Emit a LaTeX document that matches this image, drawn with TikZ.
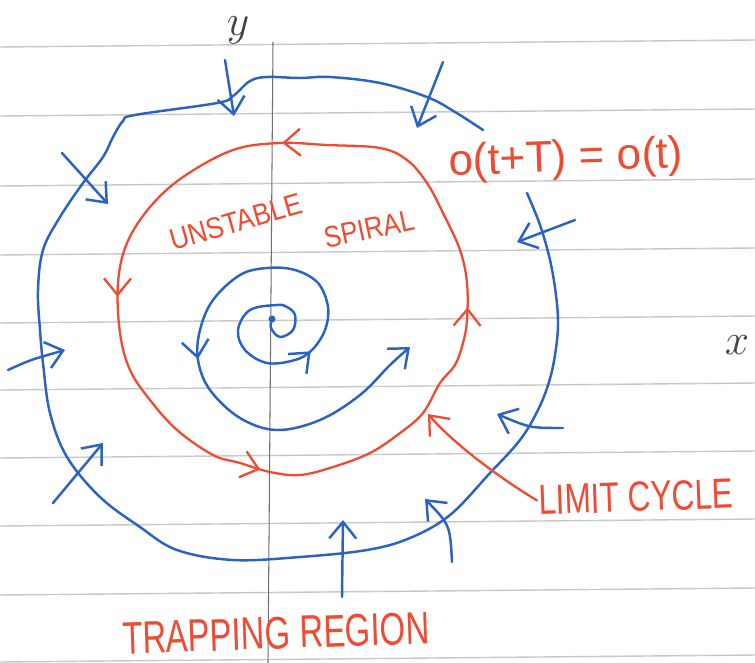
\documentclass[tikz,border=0pt]{standalone}
\usepackage{fontspec}
\usepackage{tikz}
\usetikzlibrary{arrows.meta,decorations.markings}
\newfontfamily\handfont{Liberation Sans}
\definecolor{PenBlue}{HTML}{2B62C4}
\definecolor{PenRed}{HTML}{F04A32}
\definecolor{RuleGrey}{HTML}{C8C8C8}
\definecolor{AxisGrey}{HTML}{707070}

\begin{document}
\begin{tikzpicture}[
  x=0.02cm, y=-0.02cm,
  >={Straight Barb[length=3.3mm,width=5.4mm]},
  rule/.style={RuleGrey,line width=0.8pt},
  axisline/.style={AxisGrey,line width=0.6pt},
  bluepen/.style={PenBlue,line width=1.4pt,line cap=round,line join=round},
  redpen/.style={PenRed,line width=1.3pt,line cap=round,line join=round},
  inflow/.style={bluepen,->},
  note/.style={PenRed,inner sep=1pt,font=\handfont\fontsize{17}{17}\selectfont},
  axislab/.style={AxisGrey!60!black,inner sep=1pt,font=\fontsize{28}{28}\selectfont}
]
  \fill[white] (0,0) rectangle (755,663);
  \useasboundingbox (0,0) rectangle (755,663);

  \draw[rule] (0,47) -- (755,40);
  \draw[rule] (0,116) -- (755,109);
  \draw[rule] (0,186) -- (755,179);
  \draw[rule] (0,255) -- (755,248);
  \draw[rule] (0,323) -- (755,316);
  \draw[rule] (0,390) -- (755,383);
  \draw[rule] (0,458) -- (755,451);
  \draw[rule] (0,526) -- (755,519);
  \draw[rule] (0,595) -- (755,588);
  \draw[rule] (0,662) -- (755,655);
  \draw[axisline] (273,42) -- (268,663);

  \node[axislab] (ylab) at (238,30) {$y$};
  \node[axislab] (xlab) at (737,345) {$x$};

  % trapping region boundary
  \draw[bluepen] plot[smooth,tension=0.6] coordinates {
    (527,193) (540,225) (550,260) (556,295) (558,325) (555,355) (549,382)
    (538,410) (520,440) (490,473) (450,515) (410,538) (367,550) (300,557)
    (233,560) (177,550) (140,527) (100,497) (67,457) (50,413) (43,363)
    (40,330) (38,290) (43,250) (60,217) (83,183) (103,157) (113,137)
    (123,121) (135,115) (217,103) (233,96) (250,81) (267,77) (300,78)
    (330,77) (380,83) (427,97) (455,112) (483,130)};

  \draw[inflow] (225,60) -- (234,116);
  \draw[inflow] (443,62) -- (417,128);
  \draw[inflow] (62,153) -- (108,204);
  \draw[inflow] (8,370) .. controls (30,360) .. (65,350);
  \draw[inflow] (53,503) -- (103,443);
  \draw[inflow] (342,597) -- (343,520);
  \draw[inflow] (452,562) .. controls (450,525) .. (425,499);
  \draw[inflow] (563,428) .. controls (530,428) .. (497,414);
  \draw[inflow] (575,220) -- (517,242);

  % limit cycle
  \draw[redpen,postaction={decorate,decoration={markings,
      mark=at position 0.184 with {\arrow{>}},
      mark=at position 0.41 with {\arrow{>}},
      mark=at position 0.685 with {\arrow{>}},
      mark=at position 0.954 with {\arrow{>}}}}]
    plot[smooth cycle,tension=0.6] coordinates {
    (280,143) (233,150) (183,177) (150,207) (127,243) (118,283) (120,333)
    (130,370) (150,400) (177,430) (213,455) (240,463) (270,472) (300,475)
    (333,467) (370,453) (400,433) (423,413) (440,383) (455,365) (463,343)
    (467,320) (467,283) (460,250) (443,213) (427,183) (407,160) (380,148)
    (327,145)};

  % unstable spiral
  \fill[PenBlue] (272,319) circle[radius=2pt];
  \draw[bluepen,->,postaction={decorate,decoration={markings,
      mark=at position 0.293 with {\arrow{>}},
      mark=at position 0.635 with {\arrow{>}}}}]
    plot[smooth,tension=0.6] coordinates {
    (272,319) (271,328) (280,337) (293,330) (295,315) (287,307) (277,305)
    (250,310) (238,330) (245,350) (267,363) (295,360) (312,350) (325,330)
    (328,307) (318,283) (295,270) (267,268) (240,275) (213,300) (200,330)
    (198,360) (210,390) (240,418) (277,430) (320,420) (360,395) (390,365)
    (410,347)};

  \node[note,rotate=16,xscale=0.88] (unstable) at (236,222) {UNSTABLE};
  \node[note,rotate=12,xscale=0.86] (spiral) at (369,229) {SPIRAL};
  \node[note,font=\handfont\fontsize{25}{25}\selectfont,rotate=2] (period) at (566,160) {o(t+T) = o(t)};
  \node[note,font=\handfont\fontsize{24}{24}\selectfont,rotate=2,xscale=0.75] (lc) at (636,497) {LIMIT CYCLE};
  \node[note,font=\handfont\fontsize{26}{26}\selectfont,rotate=2,xscale=0.72] (trap) at (276,633) {TRAPPING REGION};

  \coordinate (lcpt) at (428,414);
  \draw[redpen,->] (lc.west) .. controls (500,478) and (455,445) .. (lcpt);
\end{tikzpicture}
\end{document}
